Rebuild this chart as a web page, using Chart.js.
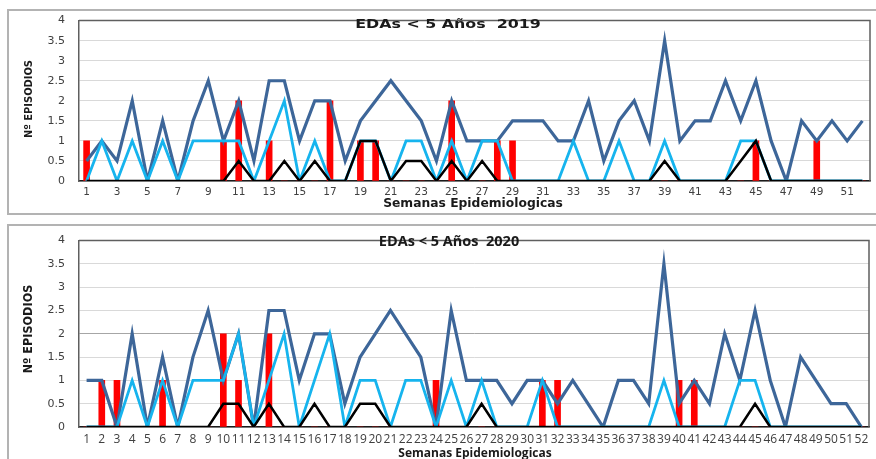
<!DOCTYPE html>
<html>
<head>
<meta charset="utf-8">
<script src="https://cdn.jsdelivr.net/npm/chart.js@4/dist/chart.umd.min.js"></script>
<style>
  body { margin: 0; width: 876px; height: 459px; background: #fff; overflow: hidden; position: relative; }
  .frame { position: absolute; border: 2px solid #b3b3b3; }
  .wrap { position: absolute; left: 0; width: 876px; }
  .txt { position: absolute; white-space: nowrap; color: #1a1a1a; font-weight: bold; }
  .ytitle { transform: translate(-50%, -50%) rotate(-90deg); font-family: "Liberation Sans Narrow", "DejaVu Sans Condensed", sans-serif; }
</style>
</head>
<body>
<div class="frame" style="left:7px;top:9px;width:890px;height:202px;"></div>
<div class="frame" style="left:7px;top:224px;width:890px;height:260px;"></div>

<div class="wrap" style="top:0;height:214px;"><canvas id="chart2019"></canvas></div>
<div class="wrap" style="top:220px;height:239px;"><canvas id="chart2020"></canvas></div>

<div class="txt" style="left:448px;top:23px;transform:translate(-50%,-50%) scaleX(1.22);font:bold 13px 'DejaVu Sans';">EDAs &lt; 5 Años&nbsp;&nbsp;2019</div>
<div class="txt" style="left:473px;top:203px;transform:translate(-50%,-50%) scaleX(1.07);font:bold 11.5px 'DejaVu Sans';">Semanas Epidemiologicas</div>
<div class="txt ytitle" style="left:28px;top:99px;font-size:11px;">Nº EPISODIOS</div>

<div class="txt" style="left:449px;top:240px;transform:translate(-50%,-50%);font:bold 14.5px 'Open Sans';">EDAs &lt; 5 Años&nbsp;&nbsp;2020</div>
<div class="txt" style="left:475px;top:452px;transform:translate(-50%,-50%);font:bold 12px 'Open Sans';">Semanas Epidemiologicas</div>
<div class="txt ytitle" style="left:27px;top:329px;font-size:12.5px;">Nº EPISODIOS</div>

<script>
// semanas epidemiologicas
const weeks = ["1","2","3","4","5","6","7","8","9","10","11","12","13","14","15","16","17","18","19","20",
  "21","22","23","24","25","26","27","28","29","30","31","32","33","34","35","36","37","38","39","40",
  "41","42","43","44","45","46","47","48","49","50","51","52"];

// 2019
const dark2019 = [0.5,1,0.5,2,0,1.5,0,1.5,2.5,1, 2,0.5,2.5,2.5,1,2,2,0.5,1.5,2,
  2.5,2,1.5,0.5,2,1,1,1,1.5,1.5, 1.5,1,1,2,0.5,1.5,2,1,3.5,1,
  1.5,1.5,2.5,1.5,2.5,1,0,1.5,1,1.5, 1,1.5];
const light2019 = [0,1,0,1,0,1,0,1,1,1, 1,0,1,2,0,1,0,0,1,1,
  0,1,1,0,1,0,1,1,0,0, 0,0,1,0,0,1,0,0,1,0,
  0,0,0,1,1,0,0,0,0,0, 0,0];
const black2019 = [0,0,0,0,0,0,0,0,0,0, 0.5,0,0,0.5,0,0.5,0,0,1,1,
  0,0.5,0.5,0,0.5,0,0.5,0,0,0, 0,0,0,0,0,0,0,0,0.5,0,
  0,0,0,0.5,1,0,0,0,0,0, 0,0];
const bars2019 = [1,0,0,0,0,0,0,0,0,1, 2,0,1,0,0,0,2,0,1,1,
  0,0,0,0,2,0,0,1,1,0, 0,0,0,0,0,0,0,0,0,0,
  0,0,0,0,1,0,0,0,1,0, 0,0];

// 2020
const dark2020 = [1,1,0,2,0,1.5,0,1.5,2.5,1, 2,0,2.5,2.5,1,2,2,0.5,1.5,2,
  2.5,2,1.5,0,2.5,1,1,1,0.5,1, 1,0.5,1,0.5,0,1,1,0.5,3.5,0.5,
  1,0.5,2,1,2.5,1,0,1.5,1,0.5, 0.5,0];
const light2020 = [0,0,0,1,0,1,0,1,1,1, 2,0,1,2,0,1,2,0,1,1,
  0,1,1,0,1,0,1,0,0,0, 1,0,0,0,0,0,0,0,1,0,
  0,0,0,1,1,0,0,0,0,0, 0,0];
const black2020 = [0,0,0,0,0,0,0,0,0,0.5, 0.5,0,0.5,0,0,0.5,0,0,0.5,0.5,
  0,0,0,0,0,0,0.5,0,0,0, 0,0,0,0,0,0,0,0,0,0,
  0,0,0,0,0.5,0,0,0,0,0, 0,0];
const bars2020 = [0,1,1,0,0,1,0,0,0,2, 1,0,2,0,0,0,0,0,0,0,
  0,0,0,1,0,0,0,0,0,0, 1,1,0,0,0,0,0,0,0,1,
  1,0,0,0,0,0,0,0,0,0, 0,0];

const yTicks = [0, 0.5, 1, 1.5, 2, 2.5, 3, 3.5, 4];

// marco del area de trazado (arriba y derecha)
const plotBorder = {
  id: "plotBorder",
  afterDraw(chart) {
    const a = chart.chartArea;
    const ctx = chart.ctx;
    ctx.save();
    ctx.strokeStyle = "#5f5f5f";
    ctx.lineWidth = 1.5;
    ctx.beginPath();
    ctx.moveTo(a.left, a.top);
    ctx.lineTo(a.right, a.top);
    ctx.lineTo(a.right, a.bottom);
    ctx.stroke();
    ctx.restore();
  },
};

function lineSet(data, color, width, order) {
  return {
    type: "line",
    data: data,
    borderColor: color,
    borderWidth: width,
    pointRadius: 0,
    tension: 0,
    order: order,
  };
}

function makeChart(id, opt) {
  return new Chart(document.getElementById(id), {
    type: "bar",
    data: {
      labels: weeks,
      datasets: [
        lineSet(opt.black, "#000000", 2.5, 0),
        lineSet(opt.light, "#16b4ee", 2.8, 1),
        lineSet(opt.dark, "#3d6699", 3.2, 2),
        { data: opt.bars, backgroundColor: "#ff0000", barThickness: 6, order: 3 },
      ],
    },
    options: {
      responsive: true,
      maintainAspectRatio: false,
      animation: false,
      events: [],
      layout: { padding: { top: opt.padTop, right: opt.padRight, left: 0, bottom: 0 } },
      plugins: { legend: { display: false }, tooltip: { enabled: false } },
      scales: {
        x: {
          offset: true,
          grid: { display: false, drawTicks: false },
          border: { color: "#1a1a1a", width: 1.5 },
          afterFit: (s) => { s.height = opt.xHeight; },
          ticks: {
            autoSkip: false,
            maxRotation: 0,
            padding: opt.xPad,
            color: "#404040",
            font: opt.xFont,
            callback: function (v, i) {
              return opt.oddOnly && i % 2 === 1 ? "" : weeks[i];
            },
          },
        },
        y: {
          min: 0,
          max: 4,
          afterFit: (s) => { s.width = 79; },
          afterBuildTicks: (s) => { s.ticks = yTicks.map((v) => ({ value: v })); },
          grid: {
            drawTicks: false,
            color: (c) => (opt.darkTwo && c.tick && c.tick.value === 2 ? "#a6a6a6" : "#d9d9d9"),
            lineWidth: 1,
          },
          border: { color: "#5f5f5f", width: 1.5 },
          ticks: {
            padding: 14,
            color: "#404040",
            font: opt.yFont,
            callback: (v) => String(v),
          },
        },
      },
    },
    plugins: [plotBorder],
  });
}

makeChart("chart2019", {
  dark: dark2019, light: light2019, black: black2019, bars: bars2019,
  padTop: 17, padRight: 6, xHeight: 33, xPad: 5, oddOnly: true,
  xFont: { family: "DejaVu Sans", size: 10.5 },
  yFont: { family: "DejaVu Sans", size: 11 },
  darkTwo: false,
});

makeChart("chart2020", {
  dark: dark2020, light: light2020, black: black2020, bars: bars2020,
  padTop: 13, padRight: 7, xHeight: 32, xPad: 5, oddOnly: false,
  xFont: { family: "Open Sans", size: 12 },
  yFont: { family: "DejaVu Sans", size: 11 },
  darkTwo: true,
});
</script>
</body>
</html>
